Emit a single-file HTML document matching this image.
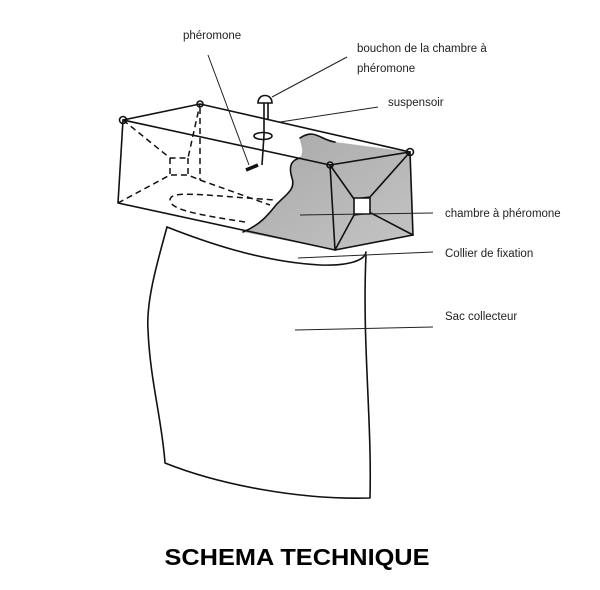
<!DOCTYPE html>
<html><head><meta charset="utf-8"><style>
body{margin:0;background:#fff;width:600px;height:590px;overflow:hidden}
svg{display:block}
text{font-family:"Liberation Sans",sans-serif;font-size:11.5px;fill:#222}
</style></head><body>
<svg width="600" height="590" viewBox="0 0 600 590">
<defs>
<linearGradient id="g" x1="0" y1="0" x2="1" y2="1"><stop offset="0" stop-color="#a8a8a8"/><stop offset="1" stop-color="#c4c4c4"/></linearGradient>
</defs>
<g fill="none" stroke="#111" stroke-width="1.6" stroke-linejoin="round" stroke-linecap="round">
<path d="M167,227 C158,260 146,300 148,330 C150,380 162,420 165,463 C220,485 300,500 370,498 C372,420 362,340 366,255" fill="#fff"/>
<path d="M167,227 C200,240 260,262 320,265 C350,266 365,260 366,252"/>
<path d="M300,138 C315,128 320,140 335,142 L410,152 L413,235 L335,250 L243,232 C260,225 268,215 276,205 C285,195 296,190 292,178 C288,165 292,160 300,158 C305,150 300,145 300,138 Z" fill="url(#g)" stroke="none"/>
<path d="M300,138 C315,128 320,140 335,142" />
<path d="M243,232 C260,225 268,215 276,205 C285,195 296,190 292,178 C288,165 292,160 300,158"/>
<path d="M123,120 L200,104 L410,152"/>
<path d="M123,120 L330,165 L410,152"/>
<path d="M123,120 L118,203 L335,250 L413,235 L410,152"/>
<path d="M330,165 L335,250"/>
<path d="M330,165 L354,199 L370,197 L410,152"/>
<path d="M335,250 L354,215 L371,213 L413,235"/>
<rect x="354" y="198" width="16" height="16" fill="#fff"/>
<circle cx="123" cy="120" r="3.5"/><circle cx="200" cy="104" r="3"/><circle cx="330" cy="165" r="3"/><circle cx="410" cy="152" r="3.5"/>
</g>
<g fill="none" stroke="#111" stroke-width="1.5" stroke-dasharray="6,4">
<path d="M123,120 L170,158 L188,158 L200,104"/>
<path d="M118,203 L170,175 L188,175 L200,180 L270,205"/>
<path d="M170,158 L170,175 M188,158 L188,175 M200,108 L200,180"/>
<path d="M245,222 C200,215 170,210 170,200 C170,190 200,195 275,200"/>
</g>
<g fill="none" stroke="#111" stroke-width="1.6">
<path d="M258,103 C258,93 272,93 272,103 Z" fill="#fff"/>
<path d="M264,103 L264,135 L262,165 M268,103 L268,120"/>
<ellipse cx="263" cy="136" rx="9" ry="3.5"/>
<path d="M246,170 L258,165" stroke-width="3.5"/>
</g>
<g stroke="#222" stroke-width="1">
<line x1="208" y1="55" x2="249" y2="165"/>
<line x1="347" y1="57" x2="272" y2="97"/>
<line x1="378" y1="107" x2="280" y2="122"/>
<line x1="300" y1="215" x2="433" y2="213"/>
<line x1="298" y1="258" x2="433" y2="252"/>
<line x1="295" y1="330" x2="433" y2="327"/>
</g>
<text x="183" y="39">phéromone</text>
<text x="357" y="52">bouchon de la chambre à</text>
<text x="357" y="72">phéromone</text>
<text x="388" y="106">suspensoir</text>
<text x="445" y="217">chambre à phéromone</text>
<text x="445" y="257">Collier de fixation</text>
<text x="445" y="320">Sac collecteur</text>
<text x="297" y="565" text-anchor="middle" style="font-size:23px;font-weight:bold;fill:#000;font-family:'Liberation Sans Narrow','Liberation Sans',sans-serif" textLength="265" lengthAdjust="spacingAndGlyphs">SCHEMA TECHNIQUE</text>
</svg>
</body></html>
